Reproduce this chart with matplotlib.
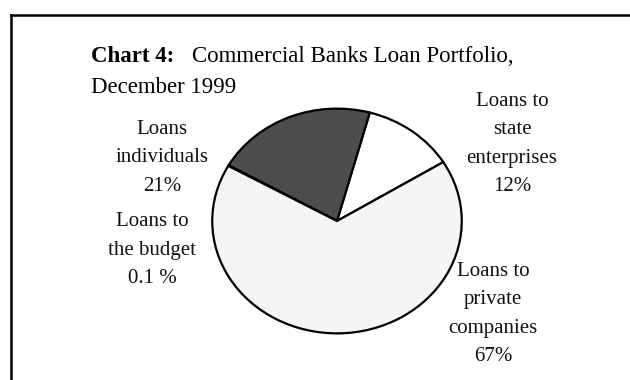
import matplotlib.pyplot as plt
from matplotlib.lines import Line2D

# loan portfolio shares, in percent
names = ["Loans to\nstate\nenterprises", "Loans\nindividuals",
         "Loans to\nthe budget", "Loans to\nprivate\ncompanies"]
shares = [12, 21, 0.1, 67]
share_labels = ["12%", "21%", "0.1 %", "67%"]
colors = ["#ffffff", "#4d4d4d", "#f5f5f5", "#f5f5f5"]

W, H = 630, 380
plt.rcParams["font.family"] = ["Liberation Serif", "DejaVu Serif"]

fig = plt.figure(figsize=(W / 100, H / 100), dpi=100)


def px(x, y):
    """Pixel position (from top-left) to figure fraction."""
    return x / W, 1 - y / H


# open frame around the chart (top and left edges)
x0, y0 = px(11, 15)
fig.add_artist(Line2D([x0, 1], [y0, y0], color="black", lw=1.8))
fig.add_artist(Line2D([x0, x0], [y0, 0], color="black", lw=1.8))

# title
fig.text(*px(91, 62), "Chart 4:", fontsize=16.5, fontweight="bold", va="baseline")
fig.text(*px(192, 62), "Commercial Banks Loan Portfolio,", fontsize=16.5, va="baseline")
fig.text(*px(91, 93), "December 1999", fontsize=16.5, va="baseline")

# pie drawn slightly wider than tall
cx, cy, rx, ry = 337, 221, 126, 113.5
ax = fig.add_axes([(cx - rx) / W, (H - cy - ry) / H, 2 * rx / W, 2 * ry / H])
ax.pie(shares, colors=colors, startangle=31.6, counterclock=True, radius=1,
       wedgeprops=dict(edgecolor="black", linewidth=1.6))
ax.set_aspect("auto")
ax.set_xlim(-1.01, 1.01)
ax.set_ylim(-1.01, 1.01)
ax.axis("off")

# category labels with their shares
label_pos = [(512, 144), (162, 158), (152, 250), (493, 314)]
for name, lab, (lx, ly) in zip(names, share_labels, label_pos):
    fig.text(*px(lx, ly), f"{name}\n{lab}", fontsize=15, ha="center", va="center",
             linespacing=1.65, color="#111111")

fig.savefig("out.png", dpi=100)
